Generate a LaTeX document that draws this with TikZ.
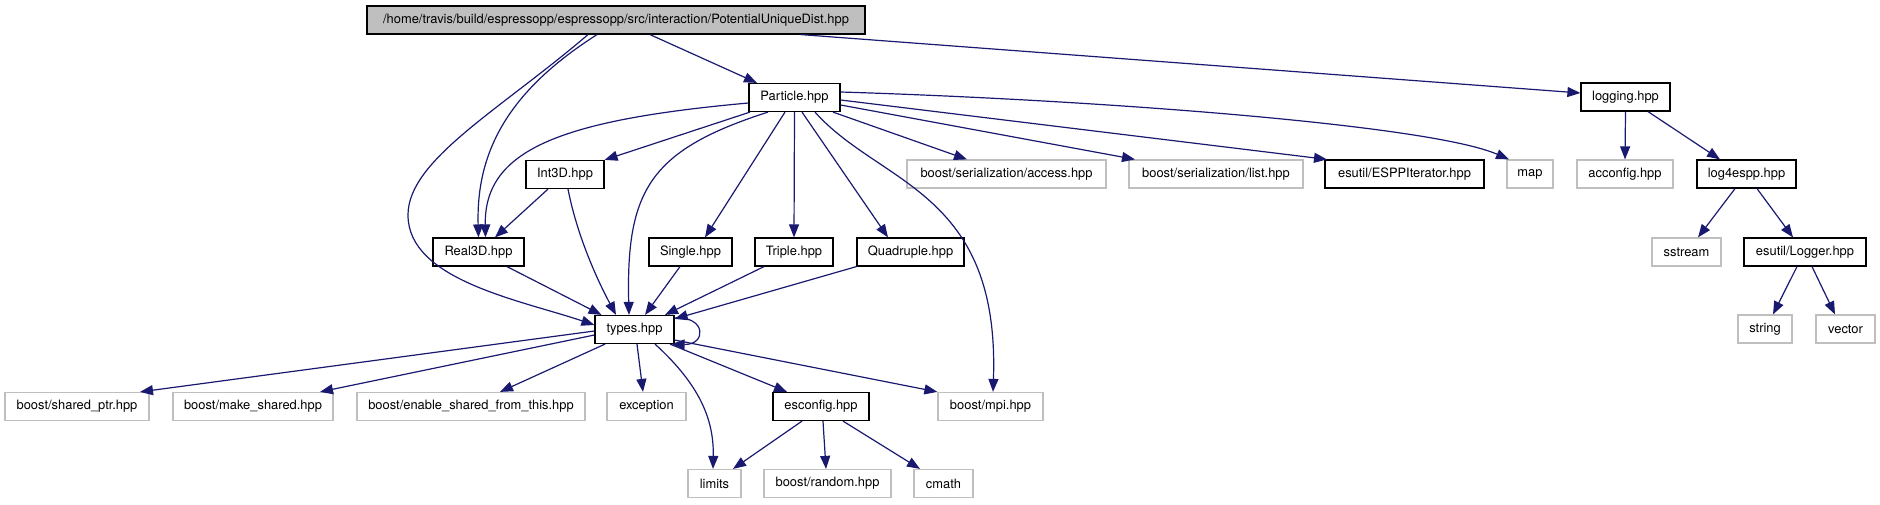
\documentclass[tikz,border=0pt]{standalone}
\usepackage{fontspec}
\setmainfont{TeX Gyre Heros}
\usetikzlibrary{arrows.meta}
\definecolor{doxedge}{HTML}{191970}
\definecolor{doxgray}{HTML}{BFBFBF}

\begin{document}
\begin{tikzpicture}[
  x=1pt, y=-1pt,
  font=\fontsize{12.9}{15}\selectfont,
  file/.style={draw, line width=1.2pt, minimum height=28pt, inner sep=0pt},
  localfile/.style={file, draw=black},
  sysfile/.style={file, draw=doxgray},
  rootfile/.style={file, draw=black, fill=doxgray},
  dep/.style={-{Triangle[length=13pt,width=10pt]}, line width=1.2pt, draw=doxedge}
]
\useasboundingbox (0,0) rectangle (1880,504);

\node[rootfile, minimum width=498pt] (root) at (616,20) {/home/travis/build/espressopp/espressopp/src/interaction/PotentialUniqueDist.hpp};
\node[localfile, minimum width=91pt] (particle) at (794.5,97.5) {Particle.hpp};
\node[localfile, minimum width=89pt] (logging) at (1625.5,97) {logging.hpp};

\node[localfile, minimum width=78pt] (int3d) at (565,174.5) {Int3D.hpp};
\node[sysfile, minimum width=199pt] (access) at (1006.5,174) {boost/serialization/access.hpp};
\node[sysfile, minimum width=174pt] (list) at (1216,174) {boost/serialization/list.hpp};
\node[localfile, minimum width=159pt] (esppiter) at (1404.5,174) {esutil/ESPPIterator.hpp};
\node[sysfile, minimum width=46pt] (map) at (1530,174) {map};
\node[sysfile, minimum width=96pt] (acconfig) at (1625,174) {acconfig.hpp};
\node[localfile, minimum width=99pt] (log4espp) at (1746.5,174) {log4espp.hpp};

\node[localfile, minimum width=91pt] (real3d) at (478.5,252) {Real3D.hpp};
\node[localfile, minimum width=83pt] (single) at (690.5,252) {Single.hpp};
\node[localfile, minimum width=78pt] (triple) at (794,252) {Triple.hpp};
\node[localfile, minimum width=107pt] (quadruple) at (910.5,252) {Quadruple.hpp};
\node[sysfile, minimum width=69pt] (sstream) at (1686.5,252) {sstream};
\node[localfile, minimum width=122pt] (logger) at (1805,252) {esutil/Logger.hpp};

\node[localfile, minimum width=79pt] (types) at (634.5,329.5) {types.hpp};
\node[sysfile, minimum width=54pt] (string) at (1765,329) {string};
\node[sysfile, minimum width=59pt] (vector) at (1845.5,329) {vector};

\node[sysfile, minimum width=144pt] (sharedptr) at (77,406.5) {boost/shared\_ptr.hpp};
\node[sysfile, minimum width=160pt] (makeshared) at (253,406.5) {boost/make\_shared.hpp};
\node[sysfile, minimum width=228pt] (enableshared) at (471,406.5) {boost/enable\_shared\_from\_this.hpp};
\node[sysfile, minimum width=79pt] (exception) at (646.5,406.5) {exception};
\node[localfile, minimum width=96pt] (esconfig) at (821,406.5) {esconfig.hpp};
\node[sysfile, minimum width=105pt] (mpi) at (990.5,406.5) {boost/mpi.hpp};

\node[sysfile, minimum width=53pt] (limits) at (714.5,483.5) {limits};
\node[sysfile, minimum width=127pt] (random) at (827.5,483.5) {boost/random.hpp};
\node[sysfile, minimum width=59pt] (cmath) at (943.5,483.5) {cmath};

% includes of the root file
\draw[dep] ([xshift=34pt]root.south) -- ([xshift=-37.5pt]particle.north);
\draw[dep] ([xshift=185pt]root.south) -- ([yshift=4pt]logging.west);
\draw[dep] ([xshift=-28pt]root.south) .. controls (500,110) and (408,160) .. (408,215)
  .. controls (408,280) and (520,300) .. ([yshift=4.5pt]types.west);
\draw[dep] ([xshift=-19pt]root.south) .. controls (510,90) and (476,150) .. (real3d.north);

% includes of Particle.hpp
\draw[dep] ([yshift=-5.5pt]particle.west) .. controls (560,120) and (484,150) .. ([xshift=7pt]real3d.north);
\draw[dep] ([xshift=-44.5pt]particle.south) -- (int3d.north east);
\draw[dep] ([xshift=-26.5pt]particle.south) .. controls (650,150) and (626,190) .. ([xshift=-5.5pt]types.north);
\draw[dep] ([xshift=-9.5pt]particle.south) -- ([xshift=14.5pt]single.north);
\draw[dep] (particle.south) -- (triple.north);
\draw[dep] ([xshift=7.5pt]particle.south) -- ([xshift=-22.5pt]quadruple.north);
\draw[dep] ([xshift=20.5pt]particle.south) .. controls (880,185) and (1000,190) .. ([xshift=2.5pt]mpi.north);
\draw[dep] ([xshift=38.5pt]particle.south) -- ([xshift=-39.5pt]access.north);
\draw[dep] ([yshift=-7.5pt]particle.east) -- ([xshift=-81pt]list.north);
\draw[dep] ([yshift=-2.5pt]particle.east) -- ([xshift=-77.5pt]esppiter.north);
\draw[dep] ([yshift=5.5pt]particle.east) .. controls (1100,100) and (1430,125) .. ([xshift=-21pt]map.north);

% vector types
\draw[dep] ([xshift=-17pt]int3d.south) -- ([xshift=16.5pt]real3d.north);
\draw[dep] ([xshift=3pt]int3d.south) .. controls (578,240) and (600,285) .. ([xshift=-18.5pt]types.north);
\draw[dep] ([xshift=28.5pt]real3d.south) -- ([xshift=-33pt]types.north);
\draw[dep] ([xshift=-10.5pt]single.south) -- ([xshift=10.5pt]types.north);
\draw[dep] ([xshift=-30pt]triple.south) -- ([xshift=30.5pt]types.north);
\draw[dep] (quadruple.south west) -- ([yshift=-4pt]types.north east);

% includes of types.hpp
\draw[dep] ([yshift=-3pt]types.north east) .. controls +(32,-2) and +(35,1) .. ([xshift=-3pt]types.south east);
\draw[dep] ([yshift=-1.5pt]types.west) -- ([xshift=63pt]sharedptr.north);
\draw[dep] ([yshift=-5.5pt]types.west) -- ([xshift=67pt]makeshared.north);
\draw[dep] ([xshift=-29.5pt]types.south) -- ([xshift=29pt]enableshared.north);
\draw[dep] ([xshift=2.5pt]types.south) -- ([xshift=-3.5pt]exception.north);
\draw[dep] ([xshift=20.5pt]types.south) .. controls (700,385) and (714,420) .. ([xshift=-1.5pt]limits.north);
\draw[dep] ([xshift=35.5pt]types.south) -- ([xshift=-34pt]esconfig.north);
\draw[dep] ([yshift=-10.5pt]types.east) -- (mpi.north west);

\draw[dep] ([xshift=-19pt]esconfig.south) -- ([xshift=18.5pt]limits.north);
\draw[dep] ([xshift=2pt]esconfig.south) -- ([xshift=-1.5pt]random.north);
\draw[dep] ([xshift=22pt]esconfig.south) -- ([xshift=-23.5pt]cmath.north);

% logging branch
\draw[dep] (logging.south) -- (acconfig.north);
\draw[dep] ([xshift=22.5pt]logging.south) -- ([xshift=-26.5pt]log4espp.north);
\draw[dep] ([xshift=-11.5pt]log4espp.south) -- ([xshift=11.5pt]sstream.north);
\draw[dep] ([xshift=10.5pt]log4espp.south) -- ([xshift=-12pt]logger.north);
\draw[dep] ([xshift=-8pt]logger.south) -- ([xshift=8pt]string.north);
\draw[dep] ([xshift=7pt]logger.south) -- ([xshift=-10.5pt]vector.north);
\end{tikzpicture}
\end{document}
